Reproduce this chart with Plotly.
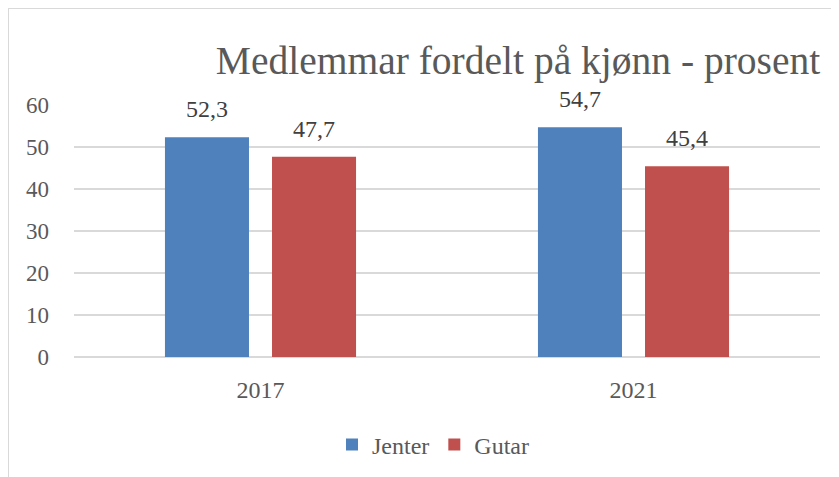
import plotly.graph_objects as go

categories = ["2017", "2021"]
jenter = [52.3, 54.7]
gutar = [47.7, 45.4]
series_names = ["Jenter", "Gutar"]
y_ticks = [0, 10, 20, 30, 40, 50, 60]
title_text = "Medlemmar fordelt på kjønn - prosent"

BLUE = "#4F81BD"
RED = "#C0504D"
GRID = "#D9D9D9"
TXT = "#595959"
FONT = "Liberation Serif"

fig = go.Figure()
fig.add_trace(go.Bar(name=series_names[0], x=categories, y=jenter, marker_color=BLUE,
                     marker_line_width=0))
fig.add_trace(go.Bar(name=series_names[1], x=categories, y=gutar, marker_color=RED,
                     marker_line_width=0))

# data labels above bars (x given as category index)
slot_px = 107
for vals, shift in ((jenter, -slot_px / 2), (gutar, slot_px / 2)):
    for i, v in enumerate(vals):
        fig.add_annotation(x=i, y=v, xref="x", yref="y", text=f"{v:.1f}".replace(".", ","),
                           showarrow=False, xshift=shift, yanchor="bottom", yshift=13,
                           font=dict(family=FONT, size=24, color="#404040"))

# chart frame at the figure edge (right/bottom cropped by the window)
fig.add_shape(type="rect", xref="paper", yref="paper", x0=-66 / 746, x1=1.2, y0=-0.6, y1=349 / 252,
              line=dict(color=GRID, width=2), fillcolor="rgba(0,0,0,0)", layer="below")

fig.update_layout(
    width=839, height=477,
    margin=dict(l=66, r=27, t=97, b=128),
    paper_bgcolor="white", plot_bgcolor="white",
    barmode="group", bargap=0.426, bargroupgap=0.215,
    font=dict(family=FONT, color=TXT),
    title=dict(text=title_text, x=510 / 839, xanchor="center", y=1 - 52 / 477, yanchor="middle",
               font=dict(family=FONT, size=39.5, color=TXT)),
    showlegend=True,
    legend=dict(orientation="h", x=(433 - 74) / 746, xanchor="center", y=(357 - 445) / 252,
                yanchor="middle", font=dict(family=FONT, size=24, color=TXT),
                itemwidth=30, traceorder="normal"),
    xaxis=dict(type="category", range=[-0.5, 1.5], autorange=False, showgrid=False, showline=False,
               ticks="", tickfont=dict(family=FONT, size=24, color=TXT), ticklabelstandoff=16),
    yaxis=dict(range=[0, 60], tickvals=y_ticks, showgrid=True, gridcolor=GRID, gridwidth=2,
               zeroline=True, zerolinecolor=GRID, zerolinewidth=2, showline=False, ticks="",
               tickfont=dict(family=FONT, size=23, color=TXT), ticklabelstandoff=24),
)

fig.write_html("out.html")
